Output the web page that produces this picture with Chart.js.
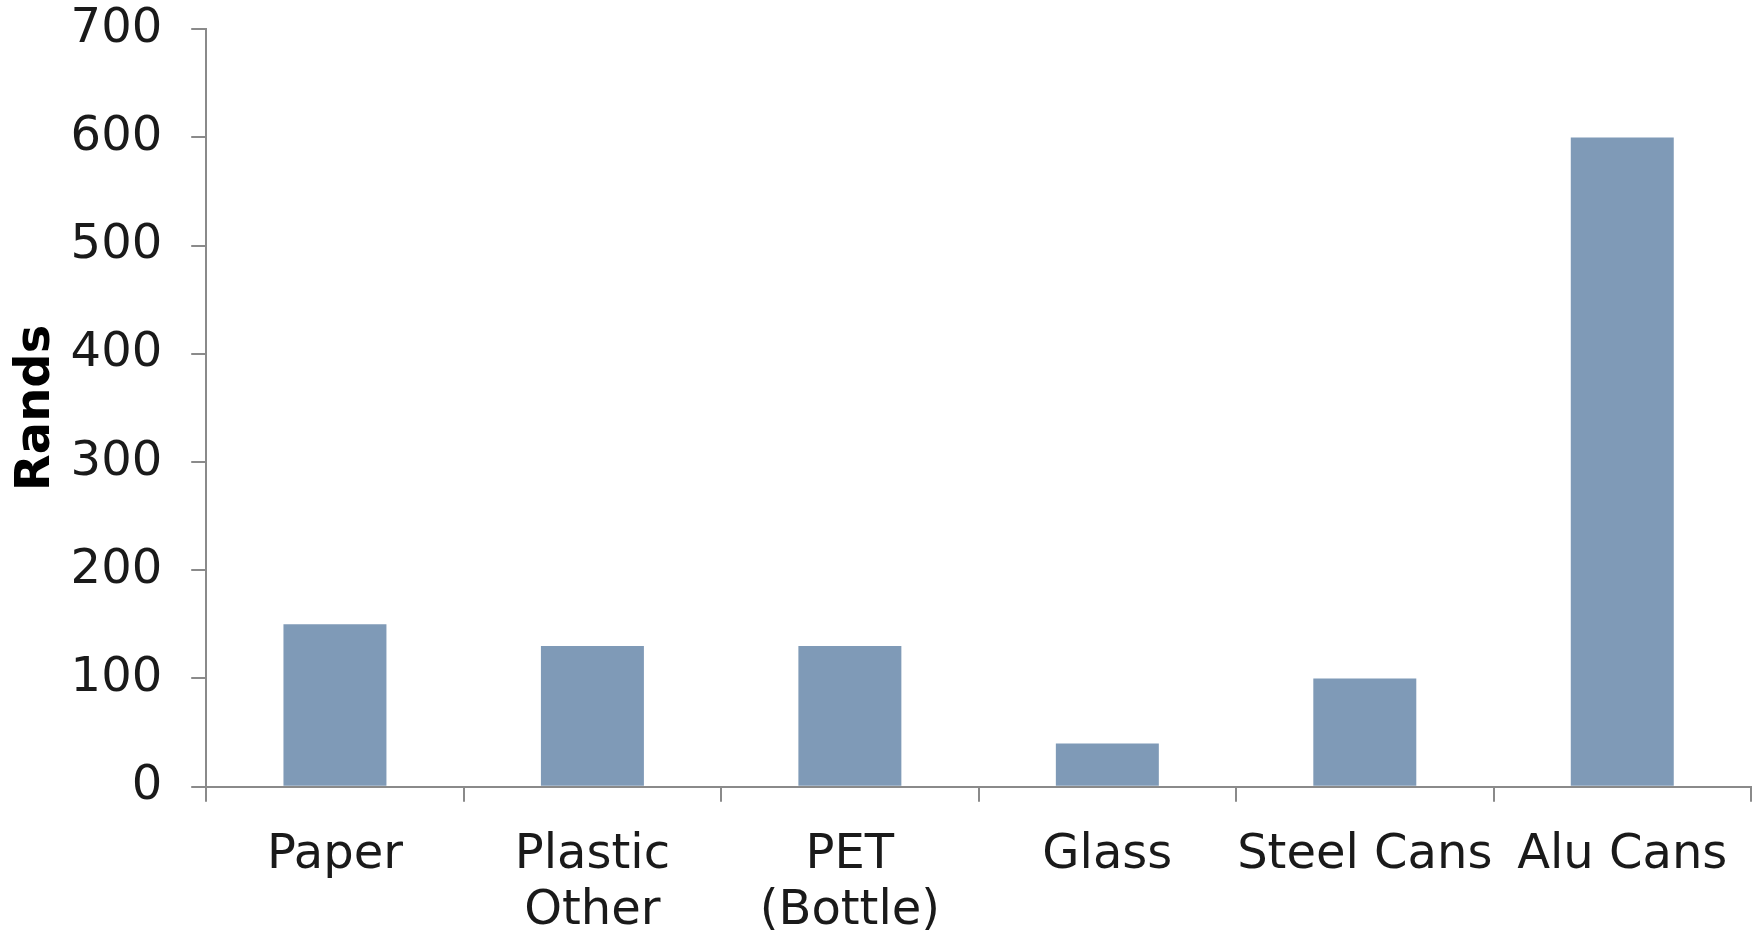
<!DOCTYPE html>
<html>
<head>
<meta charset="utf-8">
<script src="https://cdn.jsdelivr.net/npm/chart.js@4"></script>
<style>
  html, body { margin: 0; padding: 0; background: #fff; }
  #wrap { width: 1758px; height: 935px; position: relative; }
</style>
</head>
<body>
<div id="wrap"><canvas id="chart"></canvas></div>
<script>
const categories = ['Paper', ['Plastic', 'Other'], ['PET', '(Bottle)'], 'Glass', 'Steel Cans', 'Alu Cans'];
const rands = [150, 130, 130, 40, 100, 600];
const yMax = 700;
const yStep = 100;

const axisColor = '#8a8a8a';
const barColor = '#7f9ab7';

function barChart(id) {
  const data = {
    labels: categories,
    datasets: [{
      label: 'Rands',
      data: rands,
      backgroundColor: barColor,
      borderWidth: 0,
      barPercentage: 0.4,
      categoryPercentage: 1.0
    }]
  };

  const config = {
    type: 'bar',
    data: data,
    options: {
      responsive: true,
      maintainAspectRatio: false,
      animation: false,
      // bottom pulled in a bit, chart.js leaves extra room under the 2-line labels
      layout: { padding: { top: 0, right: 7, left: 8, bottom: -31 } },
      plugins: {
        legend: { display: false },
        tooltip: { enabled: false }
      },
      scales: {
        x: {
          grid: {
            offset: true,
            drawOnChartArea: false,
            drawTicks: true,
            tickLength: 15,
            color: axisColor,
            lineWidth: 2
          },
          border: { color: axisColor, width: 2 },
          ticks: {
            color: '#1a1a1a',
            font: { family: 'DejaVu Sans', size: 48, lineHeight: 1.17 },
            padding: 26,
            autoSkip: false,
            maxRotation: 0,
            minRotation: 0
          }
        },
        y: {
          min: 0,
          max: yMax,
          grid: {
            drawOnChartArea: false,
            drawTicks: true,
            tickLength: 15,
            color: axisColor,
            lineWidth: 2
          },
          border: { color: axisColor, width: 2 },
          ticks: {
            stepSize: yStep,
            color: '#1a1a1a',
            // tiny lineHeight so the top label doesn't push the plot down
            font: { family: 'DejaVu Sans', size: 48, lineHeight: 0.01 },
            padding: 29
          },
          title: {
            display: true,
            text: 'Rands',
            color: '#000',
            font: { family: 'DejaVu Sans', size: 48, weight: 'bold' },
            padding: { top: 0, bottom: -24 }
          }
        }
      }
    }
  };

  let c = document.getElementById(id).getContext('2d');
  new Chart(c, config);
}

barChart('chart');
</script>
</body>
</html>
